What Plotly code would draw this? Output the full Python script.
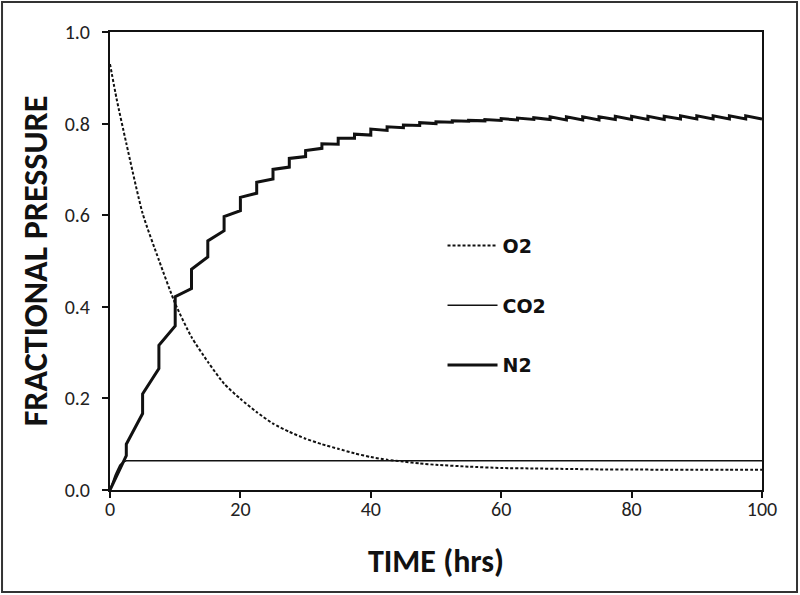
import plotly.graph_objects as go

# ---- data ----
# times (hrs) at which N2 jumps
step_times = [2.5, 5, 7.5, 10, 12.5, 15, 17.5, 20, 22.5, 25, 27.5, 30, 32.5, 35, 37.5,
              40, 42.5, 45, 47.5, 50, 52.5, 55, 57.5, 60, 62.5, 65, 67.5, 70, 72.5, 75,
              77.5, 80, 82.5, 85, 87.5, 90, 92.5, 95, 97.5]
# N2 value just before each jump
n2_before = [0.075, 0.167, 0.265, 0.358, 0.440, 0.509, 0.566, 0.610, 0.648, 0.679,
             0.705, 0.728, 0.746, 0.755, 0.768, 0.775, 0.785, 0.791, 0.796, 0.800,
             0.803, 0.805, 0.806, 0.807, 0.808, 0.809, 0.809, 0.808, 0.808, 0.808,
             0.809, 0.809, 0.809, 0.809, 0.810, 0.810, 0.810, 0.810, 0.810]
# N2 value just after each jump
n2_after = [0.100, 0.210, 0.316, 0.422, 0.482, 0.544, 0.597, 0.639, 0.672, 0.700,
            0.724, 0.741, 0.756, 0.768, 0.777, 0.788, 0.793, 0.797, 0.802, 0.804,
            0.806, 0.807, 0.809, 0.811, 0.812, 0.813, 0.815, 0.815, 0.815, 0.815,
            0.816, 0.816, 0.816, 0.816, 0.817, 0.817, 0.817, 0.817, 0.817]
n2_start = (0, 0.0)
n2_end = (100, 0.810)

o2_t = [0, 1, 2.5, 5, 7.5, 10, 12.5, 15, 17.5, 20, 22.5, 25, 27.5, 30, 32.5, 35, 37.5,
        40, 42.5, 45, 47.5, 50, 55, 60, 65, 70, 75, 80, 85, 90, 95, 100]
o2_v = [0.930, 0.855, 0.757, 0.604, 0.502, 0.407, 0.334, 0.280, 0.232, 0.199, 0.170,
        0.145, 0.127, 0.112, 0.100, 0.090, 0.080, 0.072, 0.066, 0.062, 0.058, 0.055,
        0.051, 0.048, 0.047, 0.046, 0.045, 0.045, 0.044, 0.044, 0.044, 0.044]

co2_t = [0, 0.25, 0.5, 0.75, 1.0, 1.25, 1.5, 1.75, 2.0, 2.5, 100]
co2_v = [0.0, 0.012, 0.022, 0.031, 0.039, 0.047, 0.054, 0.058, 0.061, 0.064, 0.064]

x_ticks = [0, 20, 40, 60, 80, 100]
y_ticks = [0.0, 0.2, 0.4, 0.6, 0.8, 1.0]
y_tick_labels = ["0.0", "0.2", "0.4", "0.6", "0.8", "1.0"]

# ---- build N2 staircase path ----
n2_x = [n2_start[0]]
n2_y = [n2_start[1]]
for t, b, a in zip(step_times, n2_before, n2_after):
    n2_x += [t, t]
    n2_y += [b, a]
n2_x.append(n2_end[0])
n2_y.append(n2_end[1])

narrow = "Carlito, 'Liberation Sans Narrow', 'DejaVu Sans Condensed', 'Arial Narrow', sans-serif"
ink = "#111111"

fig = go.Figure()
fig.add_trace(go.Scatter(x=o2_t, y=o2_v, mode="lines", name="O2", legendgroup="a",
                         line=dict(color=ink, width=2, dash="3px,2px", shape="spline", smoothing=0.6)))
fig.add_trace(go.Scatter(x=co2_t, y=co2_v, mode="lines", name="CO2", legendgroup="b",
                         line=dict(color=ink, width=1.5)))
fig.add_trace(go.Scatter(x=n2_x, y=n2_y, mode="lines", name="N2", legendgroup="c",
                         line=dict(color=ink, width=3)))

axis_common = dict(showgrid=False, zeroline=False, showline=True, linecolor=ink, linewidth=2,
                   mirror=True, ticks="outside", ticklen=6, tickwidth=2, tickcolor=ink)

fig.update_layout(
    width=800, height=595,
    margin=dict(l=110, r=38, t=32, b=105),
    paper_bgcolor="white", plot_bgcolor="white",
    showlegend=True,
    legend=dict(x=0.51, y=0.575, xanchor="left", yanchor="top", bgcolor="rgba(0,0,0,0)",
                tracegroupgap=32, itemwidth=50,
                font=dict(family="'DejaVu Sans', Arial, sans-serif", size=19, color=ink,
                          weight="bold")),
    xaxis=dict(range=[0, 100], tickvals=x_ticks, **axis_common,
               ticklabelstandoff=-6,
               tickfont=dict(family=narrow, size=20, color="#222222"),
               title=dict(text="TIME (hrs)", standoff=30,
                          font=dict(family=narrow, size=32, color=ink, weight="bold"))),
    yaxis=dict(range=[0, 1.0], tickvals=y_ticks, ticktext=y_tick_labels, **axis_common,
               ticklabelstandoff=8,
               tickfont=dict(family=narrow, size=20, color="#222222"),
               title=dict(text="FRACTIONAL PRESSURE", standoff=7,
                          font=dict(family=narrow, size=34, color=ink, weight="bold"))),
    shapes=[dict(type="rect", xref="paper", yref="paper",
                 x0=-0.1656, x1=1.0537, y0=-0.2227, y1=1.0655,
                 line=dict(color="#333333", width=2), fillcolor="rgba(0,0,0,0)")],
)

fig.write_html("out.html", config={"displayModeBar": False},
               post_script="document.body.style.margin='0px';")
